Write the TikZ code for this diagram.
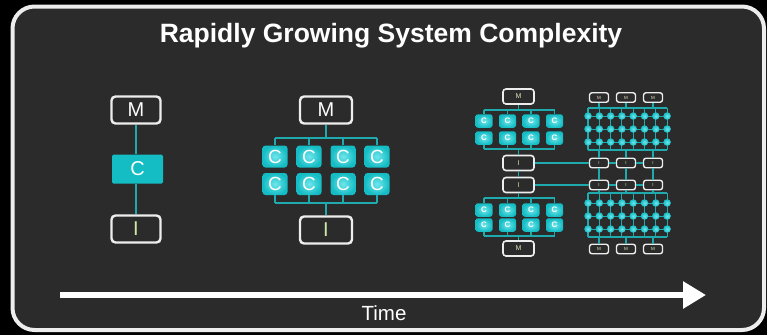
\documentclass[tikz,border=0pt]{standalone}
\usepackage{fontspec}
\setmainfont{Liberation Sans}
\usetikzlibrary{arrows.meta}
\definecolor{panelbg}{HTML}{2B2B2B}
\definecolor{cyanfill}{HTML}{14BCC4}
\definecolor{cyanglow}{HTML}{6FE6EC}
\definecolor{wire}{HTML}{1FAAAE}
\definecolor{framecol}{HTML}{EDEDED}
\definecolor{iogreen}{HTML}{CDE8A8}
\definecolor{mtext}{HTML}{E6E2C0}
\tikzset{
  bigbox/.style={draw=framecol, line width=2.4pt, rounded corners=4pt, fill=panelbg,
    minimum width=49pt, minimum height=27pt, inner sep=0pt, text=white,
    font=\fontsize{20}{20}\selectfont},
  bigc/.style={fill=cyanfill, rounded corners=1.5pt, minimum width=51pt, minimum height=29pt,
    inner sep=0pt, text=white, font=\fontsize{20}{20}\selectfont},
  cbox/.style={inner color=cyanglow, outer color=cyanfill, rounded corners=3pt,
    minimum width=25pt, minimum height=22pt, inner sep=0pt, text=white,
    font=\fontsize{19}{19}\selectfont},
  midbox/.style={draw=framecol, line width=1.6pt, rounded corners=3pt, fill=panelbg,
    minimum width=31pt, minimum height=15pt, inner sep=0pt, text=mtext,
    font=\fontsize{7}{7}\selectfont},
  smallc/.style={inner color=cyanglow, outer color=cyanfill, rounded corners=2.5pt,
    minimum width=17pt, minimum height=13.5pt, inner sep=0pt, text=white,
    font=\fontsize{8}{8}\selectfont\bfseries},
  tinybox/.style={draw=framecol, line width=1.4pt, rounded corners=2.5pt, fill=panelbg,
    minimum width=19pt, minimum height=9.5pt, inner sep=0pt, text=mtext,
    font=\fontsize{4.5}{4.5}\selectfont},
  dot/.style={circle, inner sep=0pt, minimum size=7.5pt, inner color=cyanglow, outer color=cyanfill},
  wire/.style={draw=wire, line width=1.5pt},
  thinwire/.style={draw=wire, line width=1.1pt},
  title/.style={text=white, font=\fontsize{26.5}{26.5}\selectfont\bfseries},
  axislabel/.style={text=white, font=\fontsize{20.5}{20.5}\selectfont}
}
\begin{document}
\begin{tikzpicture}[x=1pt,y=-1pt]
\useasboundingbox (0,0) rectangle (767,335);
\fill[black] (0,0) rectangle (767,335);
\draw[framecol, line width=4pt, fill=panelbg, rounded corners=22pt] (12.5,6.5) rectangle (764,330);

% heading
\node[title, anchor=base] (heading) at (391,42) {Rapidly Growing System Complexity};

% time axis
\coordinate (tstart) at (60,295);
\coordinate (tend) at (706,295);
\draw[white, line width=6.5pt, -{Triangle[length=23pt,width=26pt]}] (tstart) -- (tend);
\node[axislabel] (timelbl) at (384,313) {Time};

% ---------- stage 1: one core ----------
\node[bigbox] (m1) at (136,110) {M};
\node[bigc] (c1) at (137.5,169) {C};
\node[bigbox, text=iogreen] (i1) at (136,229) {I};
\draw[wire] (m1) -- (m1 |- c1.north);
\draw[wire] (c1.south -| i1) -- (i1);

% ---------- stage 2: eight cores ----------
\node[bigbox, minimum width=52pt] (m2) at (326,110) {M};
\node[bigbox, minimum width=52pt, text=iogreen] (i2) at (326,230) {I};
\foreach \c/\x in {1/275,2/309,3/343,4/377} {
  \node[cbox] (c2a\c) at (\x,156.5) {C};
  \node[cbox] (c2b\c) at (\x,184) {C};
  \coordinate (u2\c) at (\x,138);
  \coordinate (l2\c) at (\x,203);
}
\coordinate (u2m) at (326,138);
\coordinate (l2m) at (326,203);
\draw[wire] (m2) -- (u2m);
\draw[wire] (u21) -- (u24);
\draw[wire] (l21) -- (l24);
\draw[wire] (l2m) -- (i2);
\foreach \c in {1,...,4} {
  \draw[wire] (u2\c) -- (c2a\c);
  \draw[wire] (c2b\c) -- (l2\c);
}

% ---------- stage 3: two clusters ----------
\node[midbox] (m3a) at (518.5,96.5) {M};
\node[midbox, text=iogreen] (i3a) at (518.5,163) {I};
\node[midbox, text=iogreen] (i3b) at (518.5,185) {I};
\node[midbox] (m3b) at (518.5,248.5) {M};
\foreach \c/\x in {1/484,2/507.5,3/531,4/554.5} {
  \node[smallc] (c3a\c) at (\x,121) {C};
  \node[smallc] (c3b\c) at (\x,138) {C};
  \node[smallc] (c3c\c) at (\x,210) {C};
  \node[smallc] (c3d\c) at (\x,225) {C};
  \coordinate (u3\c) at (\x,110);
  \coordinate (v3\c) at (\x,149);
  \coordinate (w3\c) at (\x,198);
  \coordinate (z3\c) at (\x,236);
}
\coordinate (u3m) at (518.5,110);
\coordinate (v3m) at (518.5,149);
\coordinate (w3m) at (518.5,198);
\coordinate (z3m) at (518.5,236);
\draw[thinwire] (m3a) -- (u3m);
\draw[thinwire] (u31) -- (u34);
\draw[thinwire] (v31) -- (v34);
\draw[thinwire] (v3m) -- (i3a);
\draw[thinwire] (i3a) -- (i3b);
\draw[thinwire] (i3b) -- (w3m);
\draw[thinwire] (w31) -- (w34);
\draw[thinwire] (z31) -- (z34);
\draw[thinwire] (z3m) -- (m3b);
\foreach \c in {1,...,4} {
  \draw[thinwire] (u3\c) -- (c3a\c);
  \draw[thinwire] (c3b\c) -- (v3\c);
  \draw[thinwire] (w3\c) -- (c3c\c);
  \draw[thinwire] (c3d\c) -- (z3\c);
}

% ---------- stage 4: meshes ----------
\foreach \k/\x in {1/599,2/626,3/653} {
  \node[tinybox] (pt\k) at (\x,97.5) {M};
  \node[tinybox, text=iogreen] (pa\k) at (\x,163) {I};
  \node[tinybox, text=iogreen] (pb\k) at (\x,185) {I};
  \node[tinybox] (pm\k) at (\x,249) {M};
  \coordinate (gt\k) at (\x,108);
  \coordinate (gb\k) at (\x,150);
  \coordinate (ht\k) at (\x,193);
  \coordinate (hb\k) at (\x,237);
}
% mesh grid points
\foreach \i in {1,...,8} {
  \pgfmathsetmacro\gx{588+11.3*(\i-1)}
  \coordinate (ga\i) at (\gx,108);
  \coordinate (gz\i) at (\gx,150);
  \coordinate (ha\i) at (\gx,193);
  \coordinate (hz\i) at (\gx,237);
  \foreach \r/\y in {1/116,2/129,3/142} { \coordinate (da\r-\i) at (\gx,\y); }
  \foreach \r/\y in {1/203,2/216,3/229} { \coordinate (db\r-\i) at (\gx,\y); }
}
\draw[thinwire] (ga1) -- (ga8);
\draw[thinwire] (gz1) -- (gz8);
\draw[thinwire] (ha1) -- (ha8);
\draw[thinwire] (hz1) -- (hz8);
\foreach \r in {1,2,3} {
  \draw[thinwire, line width=0.8pt] (da\r-1) -- (da\r-8);
  \draw[thinwire, line width=0.8pt] (db\r-1) -- (db\r-8);
}
\foreach \i in {1,...,8} {
  \draw[thinwire] (ga\i) -- (gz\i);
  \draw[thinwire] (ha\i) -- (hz\i);
}
\foreach \i in {1,...,8} {
  \foreach \r in {1,2,3} {
    \node[dot] (na\r-\i) at (da\r-\i) {};
    \node[dot] (nb\r-\i) at (db\r-\i) {};
  }
}
\foreach \k in {1,2,3} {
  \draw[thinwire] (pt\k) -- (gt\k);
  \draw[thinwire] (gb\k) -- (pa\k);
  \draw[thinwire] (pa\k) -- (pb\k);
  \draw[thinwire] (pb\k) -- (ht\k);
  \draw[thinwire] (hb\k) -- (pm\k);
}
\draw[thinwire] (pa1) -- (pa2);
\draw[thinwire] (pa2) -- (pa3);
\draw[thinwire] (pb1) -- (pb2);
\draw[thinwire] (pb2) -- (pb3);

% links between stage 3 and stage 4
\draw[thinwire] (i3a) -- (pa1);
\draw[thinwire] (i3b) -- (pb1);
\end{tikzpicture}
\end{document}
